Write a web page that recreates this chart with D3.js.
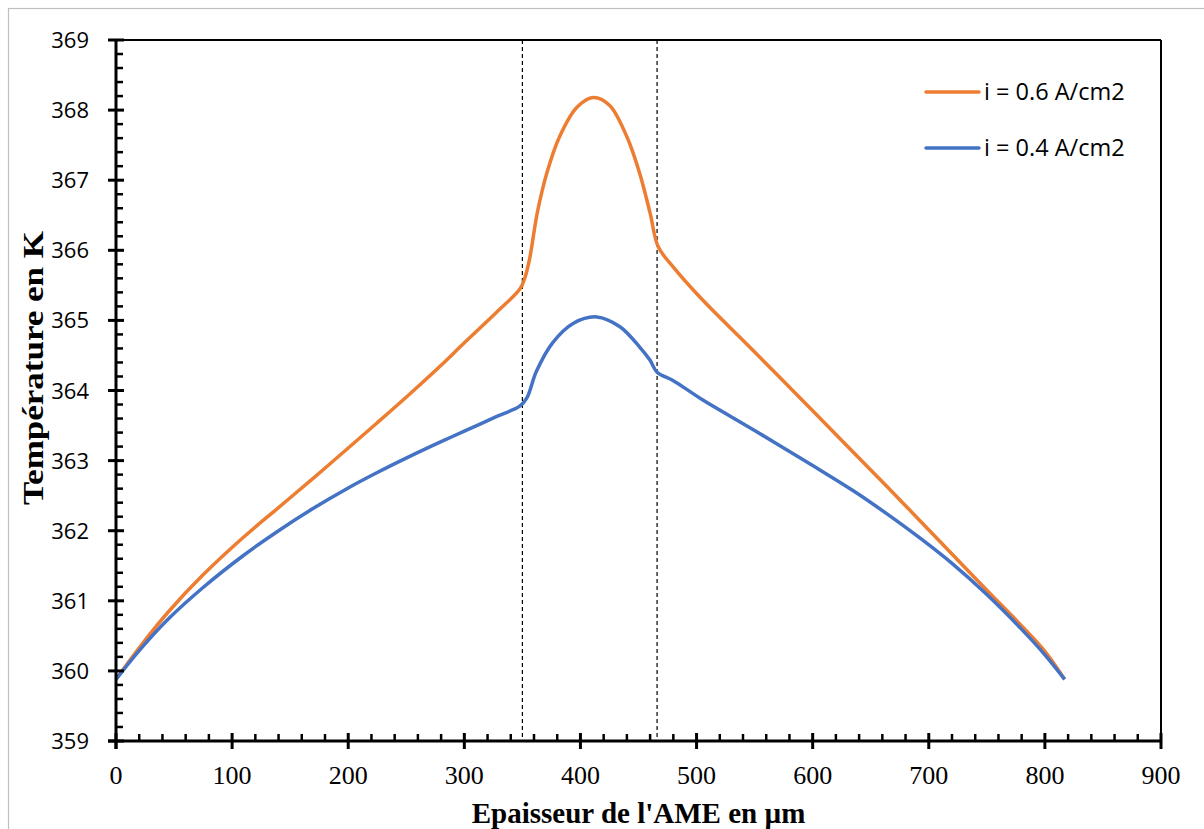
<!DOCTYPE html>
<html>
  <head>
    <script type="text/javascript" src="https://cdn.jsdelivr.net/npm/d3@7"></script>
    <style>
      body { margin: 0; background: #fff; }
    </style>
  </head>
<body>
  <script type="text/javascript">
    // i = 0.6 A/cm2 : thickness (µm) and temperature (K)
    var x06 = [0, 20, 45, 75, 110, 140, 170, 200, 225, 253, 280, 300, 328, 348, 352, 356, 363, 371, 382, 397,
      411, 425, 440, 451, 460, 467, 480, 503, 550, 600, 635, 664, 692, 721, 750, 779, 800, 817];
    var t06 = [359.88, 360.33, 360.84, 361.37, 361.91, 362.33, 362.75, 363.18, 363.54, 363.95, 364.36, 364.68,
      365.12, 365.45, 365.60, 365.86, 366.55, 367.10, 367.62, 368.04, 368.18, 368.07, 367.62, 367.10, 366.53,
      366.05, 365.76, 365.33, 364.55, 363.71, 363.12, 362.63, 362.15, 361.65, 361.15, 360.66, 360.28, 359.88];
    // i = 0.4 A/cm2
    var x04 = [0, 20, 45, 75, 110, 140, 170, 200, 225, 253, 280, 300, 328, 348, 354, 362, 376, 394, 414, 434,
      451, 460, 466, 480, 503, 550, 600, 635, 664, 692, 721, 750, 779, 800, 817];
    var t04 = [359.88, 360.29, 360.74, 361.19, 361.65, 362.00, 362.32, 362.61, 362.83, 363.06, 363.27, 363.42,
      363.63, 363.78, 363.90, 364.27, 364.68, 364.96, 365.05, 364.91, 364.62, 364.43, 364.26, 364.14, 363.89,
      363.43, 362.93, 362.57, 362.24, 361.90, 361.52, 361.09, 360.61, 360.23, 359.88];
    var seriesNames = ["i = 0.6 A/cm2", "i = 0.4 A/cm2"];
    var seriesColors = ["#ED7D31", "#4472C4"];
    var layerBounds = [350, 466];
    var xTicks = [0, 100, 200, 300, 400, 500, 600, 700, 800, 900];
    var yTicks = [359, 360, 361, 362, 363, 364, 365, 366, 367, 368, 369];

    var width = 1204;
    var height = 829;
    var plot = { left: 116, right: 1161, top: 40, bottom: 741 };

    var svg = d3.select("body")
      .append("svg")
      .attr("width", width)
      .attr("height", height);

    // outer chart border
    svg.append("rect")
      .attr("x", 8.5)
      .attr("y", 8.5)
      .attr("width", width + 10)
      .attr("height", height + 10)
      .attr("fill", "none")
      .attr("stroke", "#bfbfbf")
      .attr("stroke-width", 1.2);

    var xScale = d3.scaleLinear().domain([0, 900]).range([plot.left, plot.right]);
    var yScale = d3.scaleLinear().domain([359, 369]).range([plot.bottom, plot.top]);

    // top and right frame
    svg.append("line")
      .attr("x1", plot.left).attr("x2", plot.right)
      .attr("y1", plot.top).attr("y2", plot.top)
      .attr("stroke", "#000").attr("stroke-width", 2);
    svg.append("line")
      .attr("x1", plot.right).attr("x2", plot.right)
      .attr("y1", plot.top).attr("y2", plot.bottom)
      .attr("stroke", "#000").attr("stroke-width", 2);

    // dashed layer boundaries
    svg.selectAll(".bound")
      .data(layerBounds)
      .enter()
      .append("line")
      .attr("class", "bound")
      .attr("x1", function (d) { return xScale(d); })
      .attr("x2", function (d) { return xScale(d); })
      .attr("y1", plot.top)
      .attr("y2", plot.bottom)
      .attr("stroke", "#000")
      .attr("stroke-width", 1.2)
      .attr("stroke-dasharray", "4,3");

    // curves
    var line = d3.line()
      .x(function (d) { return xScale(d[0]); })
      .y(function (d) { return yScale(d[1]); })
      .curve(d3.curveCatmullRom.alpha(0.5));

    [[x06, t06], [x04, t04]].forEach(function (s, k) {
      svg.append("path")
        .datum(s[0].map(function (x, i) { return [x, s[1][i]]; }))
        .attr("fill", "none")
        .attr("stroke", seriesColors[k])
        .attr("stroke-width", 3.5)
        .attr("stroke-linejoin", "round")
        .attr("d", line);
    });

    // axes
    var xMinor = d3.range(0, 901, 20).filter(function (v) { return v % 100 !== 0; });
    var yMinor = d3.range(0, 51).map(function (i) { return 359 + i * 0.2; })
      .filter(function (v, i) { return i % 5 !== 0; });

    var xAxis = svg.append("g").attr("transform", "translate(0," + plot.bottom + ")");
    xAxis.append("line")
      .attr("x1", plot.left - 8).attr("x2", plot.right)
      .attr("stroke", "#000").attr("stroke-width", 3);
    xAxis.selectAll(".minor")
      .data(xMinor)
      .enter()
      .append("line")
      .attr("x1", function (d) { return xScale(d); })
      .attr("x2", function (d) { return xScale(d); })
      .attr("y1", 0).attr("y2", -7)
      .attr("stroke", "#000").attr("stroke-width", 2.5);
    xAxis.selectAll(".major")
      .data(xTicks)
      .enter()
      .append("line")
      .attr("x1", function (d) { return xScale(d); })
      .attr("x2", function (d) { return xScale(d); })
      .attr("y1", -8).attr("y2", 8)
      .attr("stroke", "#000").attr("stroke-width", 3);
    xAxis.selectAll("text")
      .data(xTicks)
      .enter()
      .append("text")
      .attr("x", function (d) { return xScale(d); })
      .attr("y", 43)
      .attr("text-anchor", "middle")
      .attr("font-family", "Liberation Serif, serif")
      .attr("font-size", 26)
      .text(function (d) { return d; });

    var yAxis = svg.append("g").attr("transform", "translate(" + plot.left + ",0)");
    yAxis.append("line")
      .attr("y1", plot.top).attr("y2", plot.bottom + 8)
      .attr("stroke", "#000").attr("stroke-width", 3);
    yAxis.selectAll(".minor")
      .data(yMinor)
      .enter()
      .append("line")
      .attr("y1", function (d) { return yScale(d); })
      .attr("y2", function (d) { return yScale(d); })
      .attr("x1", 0).attr("x2", 7)
      .attr("stroke", "#000").attr("stroke-width", 2.5);
    yAxis.selectAll(".major")
      .data(yTicks)
      .enter()
      .append("line")
      .attr("y1", function (d) { return yScale(d); })
      .attr("y2", function (d) { return yScale(d); })
      .attr("x1", -8).attr("x2", 8)
      .attr("stroke", "#000").attr("stroke-width", 3);
    yAxis.selectAll("text")
      .data(yTicks)
      .enter()
      .append("text")
      .attr("x", -27)
      .attr("y", function (d) { return yScale(d) + 8; })
      .attr("text-anchor", "end")
      .attr("font-family", "Open Sans, sans-serif")
      .attr("font-size", 22)
      .text(function (d) { return d; });

    // axis titles
    svg.append("text")
      .attr("x", (plot.left + plot.right) / 2)
      .attr("y", 823)
      .attr("text-anchor", "middle")
      .attr("font-family", "Liberation Serif, serif")
      .attr("font-weight", "bold")
      .attr("font-size", 29)
      .text("Epaisseur de l'AME en µm");

    svg.append("text")
      .attr("transform", "translate(43,368) rotate(-90)")
      .attr("text-anchor", "middle")
      .attr("font-family", "Liberation Serif, serif")
      .attr("font-weight", "bold")
      .attr("font-size", 30)
      .attr("textLength", 274)
      .attr("lengthAdjust", "spacingAndGlyphs")
      .text("Température en K");

    // legend
    var legend = svg.append("g").attr("transform", "translate(926,92)");
    seriesNames.forEach(function (name, k) {
      var g = legend.append("g").attr("transform", "translate(0," + (k * 56) + ")");
      g.append("line")
        .attr("x1", 0).attr("x2", 53)
        .attr("stroke", seriesColors[k])
        .attr("stroke-width", 3.5)
        .attr("stroke-linecap", "round");
      g.append("text")
        .attr("x", 58)
        .attr("y", 8)
        .attr("font-family", "Open Sans, sans-serif")
        .attr("font-size", 23.5)
        .text(name);
    });
  </script>
</body>
</html>
